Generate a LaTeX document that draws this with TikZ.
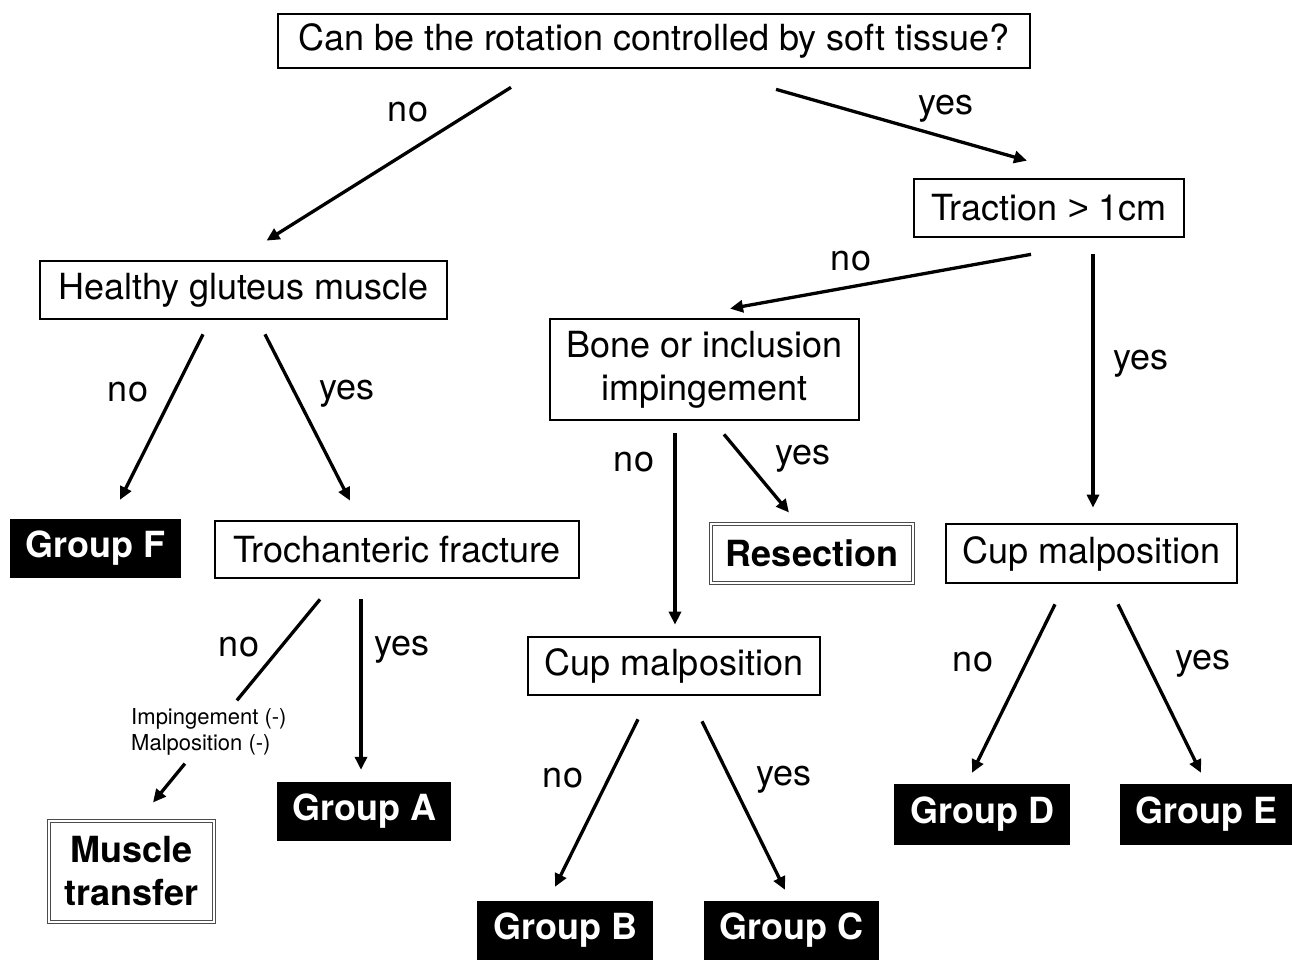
\documentclass[tikz,border=0pt]{standalone}
\usepackage{fontspec}
\setmainfont{TeX Gyre Heros}
\newfontfamily\gtfont{Liberation Sans}
\usetikzlibrary{arrows.meta,calc}
\begin{document}
\begin{tikzpicture}[x=1pt,y=-1pt,
  big/.style={font=\fontsize{36}{43}\selectfont},
  box/.style={big, draw, line width=2.7pt, inner sep=0pt, align=center},
  grp/.style={fill=black, text=white, inner sep=0pt, font=\fontsize{36}{43}\selectfont\bfseries},
  dbl/.style={draw=gray!60!black, double=white, double distance=2.5pt, line width=1pt, inner sep=0pt, align=center, font=\fontsize{36}{43}\selectfont\bfseries},
  arr/.style={line width=3.3pt, -{Triangle[length=13pt,width=12pt]}},
  plain/.style={line width=3.3pt},
  lbl/.style={big, inner sep=0pt},
  small/.style={font=\fontsize{22}{26}\selectfont, inner sep=0pt, align=left}
]
\useasboundingbox (0,0) rectangle (1292,960);

% nodes
\node[box, minimum width=752, minimum height=54] (top) at (654,41) {Can be the rotation controlled by soft tissue?};
\node[box, minimum width=270, minimum height=58] (trac) at (1049,208) {Traction {\gtfont >} 1cm};
\node[box, minimum width=407, minimum height=58] (heal) at (243.5,290) {Healthy gluteus muscle};
\node[box, minimum width=309, minimum height=101] (bone) at (704.5,369.5) {Bone or inclusion\\impingement};
\node[grp, minimum width=171, minimum height=59] (gF) at (95.5,548.5) {Group F};
\node[box, minimum width=364, minimum height=57] (troch) at (397,549.5) {Trochanteric fracture};
\node[dbl, minimum width=202, minimum height=59] (res) at (812,553.5) {Resection};
\node[box, minimum width=291, minimum height=59] (cupR) at (1091.5,553.5) {Cup malposition};
\node[box, minimum width=292, minimum height=58] (cupM) at (674,666) {Cup malposition};
\node[grp, minimum width=174, minimum height=59] (gA) at (364,811.5) {Group A};
\node[dbl, minimum width=165, minimum height=101] (mt) at (131.5,871.5) {Muscle\\transfer};
\node[grp, minimum width=176, minimum height=59] (gB) at (565,930.5) {Group B};
\node[grp, minimum width=175, minimum height=59] (gC) at (791.5,930.5) {Group C};
\node[grp, minimum width=176, minimum height=61] (gD) at (982,814.5) {Group D};
\node[grp, minimum width=172, minimum height=61] (gE) at (1206,814.5) {Group E};
\node[small, anchor=west] (imp) at (131,732) {Impingement (-)\\Malposition (-)};

% connectors
\draw[arr] ([shift={(-143,18)}]top.south) -- ([shift={(23,-19)}]heal.north);
\draw[arr] ([shift={(122,20)}]top.south) -- ([shift={(-22,-17)}]trac.north);
\draw[arr] ([shift={(-18,16)}]trac.south) -- ([shift={(25.5,-9)}]bone.north);
\draw[arr] ([shift={(44,16)}]trac.south) -- ([shift={(1.5,-15)}]cupR.north);
\draw[arr] ([shift={(-40.5,14)}]heal.south) -- ([shift={(24.5,-19)}]gF.north);
\draw[arr] ([shift={(21.5,14)}]heal.south) -- ([shift={(-47,-19)}]troch.north);
\draw[arr] ([shift={(-29.5,12)}]bone.south) -- ([shift={(1,-11)}]cupM.north);
\draw[arr] ([shift={(19.5,13)}]bone.south) -- ([shift={(-23,-11)}]res.north);
\draw[plain] ([shift={(-77,20)}]troch.south) -- ([shift={(28,-8)}]imp.north);
\draw[arr] ([shift={(-24,8)}]imp.south) -- ([shift={(21.5,-18)}]mt.north);
\draw[arr] ([shift={(-36,20)}]troch.south) -- ([shift={(-3,-12)}]gA.north);
\draw[arr] ([shift={(-36,23)}]cupM.south) -- ([shift={(-10,-14)}]gB.north);
\draw[arr] ([shift={(28,25)}]cupM.south) -- ([shift={(-6.5,-11)}]gC.north);
\draw[arr] ([shift={(-36.5,20)}]cupR.south) -- ([shift={(-10,-11)}]gD.north);
\draw[arr] ([shift={(26.5,20)}]cupR.south) -- ([shift={(-5,-11)}]gE.north);

% labels
\node[lbl] (l1) at (408,112) {no};
\node[lbl] (l2) at (946,109) {yes};
\node[lbl] (l3) at (851,261) {no};
\node[lbl] (l4) at (1141,364) {yes};
\node[lbl] (l5) at (128,392) {no};
\node[lbl] (l6) at (347,394) {yes};
\node[lbl] (l7) at (634,462) {no};
\node[lbl] (l8) at (803,459) {yes};
\node[lbl] (l9) at (239,647) {no};
\node[lbl] (l10) at (402,650) {yes};
\node[lbl] (l11) at (563,778) {no};
\node[lbl] (l12) at (784,780) {yes};
\node[lbl] (l13) at (973,662) {no};
\node[lbl] (l14) at (1203,664) {yes};
\end{tikzpicture}
\end{document}
